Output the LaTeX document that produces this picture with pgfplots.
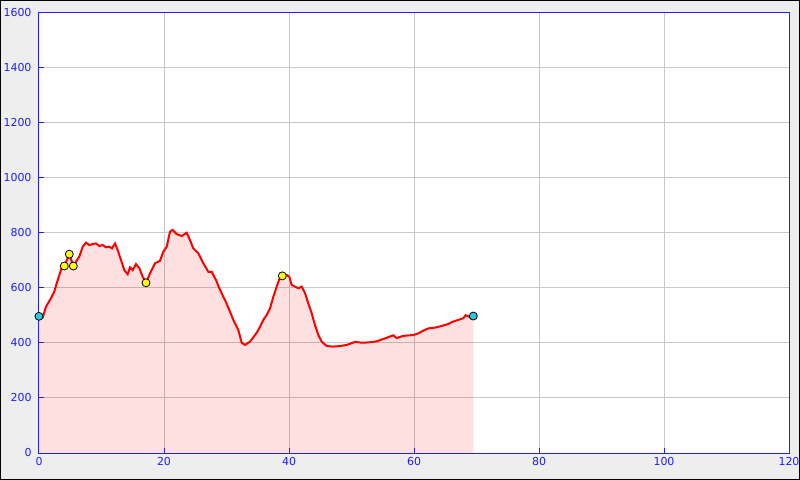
\documentclass[border=0pt]{standalone}
\usepackage{fontspec}
\setmainfont{DejaVu Sans}
\usepackage{pgfplots}
\usepackage{pgfplotstable}
\pgfplotsset{compat=1.18}
\definecolor{bgc}{RGB}{238,238,238}
\definecolor{tickblue}{RGB}{30,30,255}
\definecolor{gridc}{RGB}{200,200,200}
\definecolor{cyanm}{RGB}{40,200,225}
\definecolor{yellowm}{RGB}{255,255,0}
\pgfplotstableread{
x y
0 497
0.6 493
1.12 532
1.92 563
2.45 587
2.83 617
3.25 647
3.68 677
4.05 680
4.85 723
5.49 680
5.92 696
6.45 714
6.99 750
7.52 765
8.05 756
8.59 760
9.12 762
9.65 753
10.19 756
10.72 748
11.25 750
11.68 744
12.16 762
12.59 738
13.12 702
13.65 665
14.19 650
14.56 675
14.99 665
15.52 687
16.05 672
16.59 641
17.12 619
17.76 653
18.56 690
19.36 699
19.89 732
20.43 750
20.96 805
21.39 811
22.03 796
22.83 789
23.63 801
24.16 774
24.69 744
25.49 726
26.29 690
27.09 659
27.63 659
28.32 629
28.96 593
29.76 556
30.45 520
31.09 484
31.89 447
32.43 401
32.96 393
33.76 405
34.83 437
35.36 459
35.89 484
36.43 502
36.96 526
37.49 568
38.03 605
38.45 631
38.93 644
39.63 647
40.05 641
40.43 611
40.96 605
41.49 599
42.03 605
42.56 581
43.09 544
43.63 508
44.16 465
44.69 429
45.23 405
46.03 389
47.09 387
48.16 389
49.23 393
50.56 404
51.63 401
52.69 402
54.03 406
55.36 417
56.69 428
57.23 418
58.29 426
59.89 429
60.69 435
61.49 445
62.29 453
63.36 456
64.43 462
65.49 469
66.03 476
67.09 484
67.89 490
68.27 501
68.80 496
69.12 490
69.49 498
}\profile
\begin{document}
\begin{tikzpicture}
\useasboundingbox (0,0) rectangle (800bp,480bp);
\fill[bgc] (0,0) rectangle (800bp,480bp);
\draw[black, line width=1bp] (0.5bp,0.5bp) rectangle (799.5bp,479.5bp);
\begin{axis}[
  at={(39bp,27bp)}, anchor=south west,
  scale only axis, width=750bp, height=440bp,
  xmin=0, xmax=120, ymin=0, ymax=1600,
  xtick={0,20,...,120}, ytick={0,200,...,1600},
  axis background/.style={fill=white},
  grid=major, grid style={color=gridc, line width=1bp},
  axis line style={tickblue, line width=1bp},
  tick style={tickblue, line width=1bp},
  tick align=inside, major tick length=5bp,
  xtick pos=bottom, ytick pos=left,
  tick label style={font=\fontsize{11}{13}\selectfont, text=tickblue},
  yticklabel style={xshift=-4bp},
  xticklabel style={yshift=-1bp},
  /pgf/number format/assume math mode=true,
  /pgf/number format/1000 sep={},
  clip=false,
]
\addplot[draw=none, fill=red, fill opacity=0.12] table[x=x,y=y]{\profile} \closedcycle;
\addplot[red, line width=2bp] table[x=x,y=y]{\profile};
\addplot[only marks, mark=*, mark size=4bp, mark options={fill=yellowm, draw=black, line width=0.8bp}] coordinates {(4.05,680) (4.85,723) (5.49,680) (17.12,619) (38.93,644)};
\addplot[only marks, mark=*, mark size=4bp, mark options={fill=cyanm, draw=black, line width=0.8bp}] coordinates {(0,497) (69.49,498)};
\end{axis}
\end{tikzpicture}
\end{document}
